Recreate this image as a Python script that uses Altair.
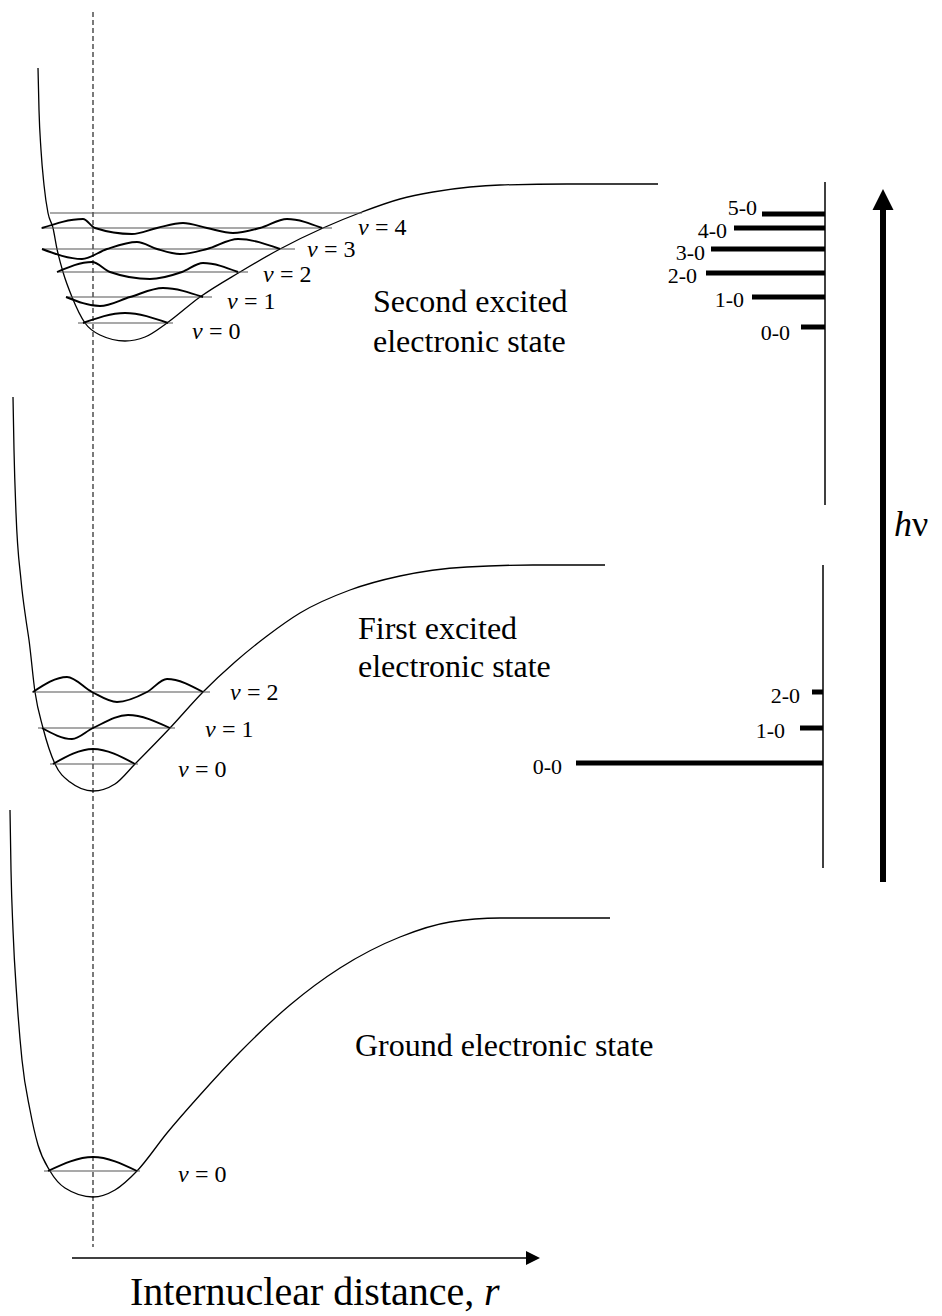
import altair as alt
import pandas as pd

W, H = 942, 1316
FONT = "Liberation Serif"

# ---------------- potential energy curves (x, y, pixel frame) ----
pot_second_x = [38, 39, 41, 44, 48, 53, 57, 63, 72, 85, 100, 125, 145, 167, 200, 240, 280, 323, 362, 400, 433, 470, 500, 567, 658]
pot_second_y = [68, 110, 150, 185, 213, 228, 249, 272, 297, 323, 335, 341, 337, 323, 297, 272, 249, 228, 212, 199, 192, 187, 185, 184, 184]

pot_first_x = [13, 14, 16, 21, 26, 29, 35, 43, 55, 70, 93, 115, 135, 170, 203, 235, 267, 300, 350, 400, 467, 533, 605]
pot_first_y = [397, 450, 513, 580, 620, 640, 692, 728, 764, 782, 791, 784, 764, 728, 692, 662, 636, 613, 590, 576, 567, 565, 565]

pot_ground_x = [10, 11, 13, 17, 22, 30, 38, 50, 65, 93, 115, 137, 167, 200, 240, 290, 340, 400, 450, 500, 610]
pot_ground_y = [810, 870, 930, 1000, 1060, 1110, 1145, 1171, 1188, 1197, 1190, 1171, 1133, 1095, 1052, 1005, 968, 937, 922, 918, 918]

# ---------------- vibrational wavefunctions ----------------
wf = {
    "s0": ([83, 125, 168], [323, 313, 323]),
    "s1": ([66, 100, 130, 163, 203], [297, 306, 297, 288, 297]),
    "s2": ([57, 92, 110, 150, 182, 203, 238], [272, 262, 272, 279, 272, 263, 272]),
    "s3": ([42, 82, 107, 137, 157, 180, 207, 238, 280], [249, 259, 249, 242, 249, 254, 249, 239, 249]),
    "s4": ([42, 83, 95, 132, 157, 183, 207, 233, 260, 287, 322], [228, 219, 228, 234, 228, 223, 228, 233, 228, 219, 228]),
    "f0": ([53, 93, 135], [764, 749, 764]),
    "f1": ([42, 72, 93, 128, 170], [728, 739, 728, 715, 728]),
    "f2": ([33, 67, 92, 117, 147, 167, 203], [692, 677, 692, 702, 692, 679, 692]),
    "g0": ([48, 93, 137], [1171, 1157, 1171]),
}

# ---------------- vibrational level lines ----------------
lvl_y = [213, 228, 249, 272, 297, 323, 692, 728, 764, 1171]
lvl_x1 = [50, 41, 42, 57, 66, 78, 32, 38, 50, 44]
lvl_x2 = [362, 332, 295, 248, 212, 173, 210, 175, 138, 140]

# ---------------- v labels ----------------
vlab_text = ["= 4", "= 3", "= 2", "= 1", "= 0", "= 2", "= 1", "= 0", "= 0"]
vlab_x = [358, 307, 263, 227, 192, 230, 205, 178, 178]
vlab_y = [228, 250, 275, 302, 332, 693, 730, 770, 1175]

# ---------------- transition bars (spectrum) ----------------
bar_label = ["5-0", "4-0", "3-0", "2-0", "1-0", "0-0", "2-0", "1-0", "0-0"]
bar_y = [214, 228, 249, 273, 297, 327, 692, 728, 763]
bar_x1 = [762, 734, 711, 706, 752, 801, 812, 800, 576]
bar_x2 = [825, 825, 825, 825, 825, 825, 823, 823, 823]
bar_lab_x = [757, 727, 705, 697, 744, 790, 800, 785, 562]
bar_lab_y = [208, 231, 253, 276, 300, 333, 696, 731, 767]

# spectrum spines
spine_x = [825, 823]
spine_y1 = [182, 565]
spine_y2 = [505, 868]

# ---------------- state names ----------------
state_text = ["Second excited", "electronic state", "First excited", "electronic state", "Ground electronic state"]
state_x = [373, 373, 358, 358, 355]
state_y = [302, 342, 629, 667, 1046]

# ---------------- shared scales ----------------
xs = alt.Scale(domain=[0, W], nice=False, zero=False)
ys = alt.Scale(domain=[0, H], nice=False, zero=False, reverse=True)


def X(f):
    return alt.X(f, type="quantitative", scale=xs, axis=None)


def Y(f):
    return alt.Y(f, type="quantitative", scale=ys, axis=None)


rows = []
for name, (xx, yy) in [("pS", (pot_second_x, pot_second_y)), ("pF", (pot_first_x, pot_first_y)),
                       ("pG", (pot_ground_x, pot_ground_y))]:
    for a, b in zip(xx, yy):
        rows.append({"id": name, "x": a, "y": b})
pot_df = pd.DataFrame(rows)

rows = []
for name, (xx, yy) in wf.items():
    for a, b in zip(xx, yy):
        rows.append({"id": name, "x": a, "y": b})
wf_df = pd.DataFrame(rows)

lvl_df = pd.DataFrame({"x": lvl_x1, "x2": lvl_x2, "y": lvl_y})
vlab_df = pd.DataFrame({"t": vlab_text, "x": vlab_x, "y": vlab_y})
bar_df = pd.DataFrame({"x": bar_x1, "x2": bar_x2, "y": bar_y, "t": bar_label, "lx": bar_lab_x, "ly": bar_lab_y})
spine_df = pd.DataFrame({"x": spine_x, "y": spine_y1, "y2": spine_y2})
state_df = pd.DataFrame({"t": state_text, "x": state_x, "y": state_y})

pot = alt.Chart(pot_df).mark_line(interpolate="monotone", color="black", strokeWidth=1.3).encode(
    x=X("x"), y=Y("y"), detail="id:N", order="x:Q")

waves = alt.Chart(wf_df).mark_line(interpolate="monotone", color="black", strokeWidth=1.9).encode(
    x=X("x"), y=Y("y"), detail="id:N", order="x:Q")

levels = alt.Chart(lvl_df).mark_rule(color="#555555", strokeWidth=1.1).encode(
    x=X("x"), x2="x2:Q", y=Y("y"))

vlab_v = alt.Chart(vlab_df).mark_text(align="left", baseline="middle", font=FONT, fontSize=24,
                                      fontStyle="italic", color="black").encode(
    x=X("x"), y=Y("y"), text=alt.value("v"))
vlab_n = alt.Chart(vlab_df).mark_text(align="left", baseline="middle", font=FONT, fontSize=24,
                                      color="black", dx=17).encode(
    x=X("x"), y=Y("y"), text="t:N")

dash_df = pd.DataFrame({"x": [93], "y": [12], "y2": [1247]})
dashed = alt.Chart(dash_df).mark_rule(color="#222222", strokeWidth=1.2, strokeDash=[5, 3]).encode(
    x=X("x"), y=Y("y"), y2="y2:Q")

bars = alt.Chart(bar_df).mark_rule(color="black", strokeWidth=5).encode(
    x=X("x"), x2="x2:Q", y=Y("y"))
bar_labels = alt.Chart(bar_df).mark_text(align="right", baseline="middle", font=FONT, fontSize=22,
                                         color="black").encode(
    x=X("lx"), y=Y("ly"), text="t:N")
spines = alt.Chart(spine_df).mark_rule(color="black", strokeWidth=1.5).encode(
    x=X("x"), y=Y("y"), y2="y2:Q")

states = alt.Chart(state_df).mark_text(align="left", baseline="middle", font=FONT, fontSize=32,
                                       color="black").encode(
    x=X("x"), y=Y("y"), text="t:N")

# h-nu arrow
hv_df = pd.DataFrame({"x": [883], "y": [208], "y2": [882]})
hv_shaft = alt.Chart(hv_df).mark_rule(color="black", strokeWidth=6).encode(
    x=X("x"), y=Y("y"), y2="y2:Q")
hv_head_df = pd.DataFrame({"x": [883], "y": [199.5]})
hv_head = alt.Chart(hv_head_df).mark_point(shape="M0,-1L1,1L-1,1Z", size=441, filled=True,
                                           color="black", opacity=1, strokeWidth=0).encode(
    x=X("x"), y=Y("y"))
hv_text_df = pd.DataFrame({"x": [894], "y": [525]})
hv_h = alt.Chart(hv_text_df).mark_text(align="left", baseline="middle", font=FONT, fontSize=36,
                                       fontStyle="italic", color="black").encode(
    x=X("x"), y=Y("y"), text=alt.value("h"))
hv_nu = alt.Chart(hv_text_df).mark_text(align="left", baseline="middle", font=FONT, fontSize=36,
                                        color="black", dx=18).encode(
    x=X("x"), y=Y("y"), text=alt.value("ν"))

# r axis arrow
r_df = pd.DataFrame({"x": [72], "x2": [528], "y": [1258]})
r_shaft = alt.Chart(r_df).mark_rule(color="black", strokeWidth=1.5).encode(
    x=X("x"), x2="x2:Q", y=Y("y"))
r_head_df = pd.DataFrame({"x": [533], "y": [1258]})
r_head = alt.Chart(r_head_df).mark_point(shape="M1,0L-1,-1L-1,1Z", size=196, filled=True,
                                         color="black", opacity=1, strokeWidth=0).encode(
    x=X("x"), y=Y("y"))
r_text_df = pd.DataFrame({"x": [130], "y": [1293]})
r_text = alt.Chart(r_text_df).mark_text(align="left", baseline="middle", font=FONT, fontSize=40,
                                        color="black").encode(
    x=X("x"), y=Y("y"), text=alt.value("Internuclear distance,"))
r_text_r = alt.Chart(r_text_df).mark_text(align="left", baseline="middle", font=FONT, fontSize=40,
                                          fontStyle="italic", color="black", dx=354).encode(
    x=X("x"), y=Y("y"), text=alt.value("r"))

chart = alt.layer(
    dashed, pot, levels, waves, vlab_v, vlab_n, bars, bar_labels, spines, states,
    hv_shaft, hv_head, hv_h, hv_nu, r_shaft, r_head, r_text, r_text_r
).properties(width=W, height=H, padding=0, autosize="none", background="white").configure_view(stroke=None)

chart.save("out.html", embed_options={"renderer": "svg", "actions": False})
